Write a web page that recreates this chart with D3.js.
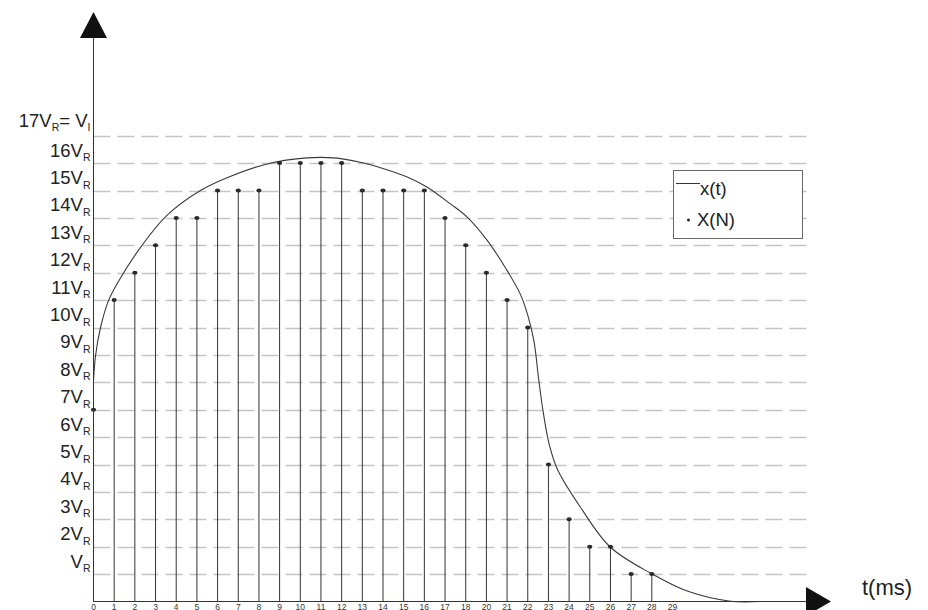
<!DOCTYPE html>
<html>
<head>
<meta charset="utf-8">
<script src="https://cdn.jsdelivr.net/npm/d3@7"></script>
<style>
    body { margin: 0; background: #fff; }
    svg { display: block; font-family: "Liberation Sans", Arial, sans-serif; }
</style>
</head>
<body>
<script>
(function(){

//sampled values X(N), one per stem, in units of VR
var stemValues = [7, 11, 12, 13, 14, 14, 15, 15, 15, 16, 16, 16, 16, 15, 15, 15, 15, 14, 13, 12, 11, 10, 5, 3, 2, 2, 1, 1];

//tick labels under the time axis (19 is missing in the original)
var tickLabels = ["0", "1", "2", "3", "4", "5", "6", "7", "8", "9", "10", "11", "12", "13", "14", "15", "16", "17", "18", "20", "21", "22", "23", "24", "25", "26", "27", "28", "29"];

//y levels and their labels
var levels = [1, 2, 3, 4, 5, 6, 7, 8, 9, 10, 11, 12, 13, 14, 15, 16, 17];
var levelNames = ["", "2", "3", "4", "5", "6", "7", "8", "9", "10", "11", "12", "13", "14", "15", "16", "17"];

//continuous signal x(t) (t in sample steps, value in VR)
var curveT = [0, 0.1, 0.34, 0.73, 1.22, 2.3, 3.56, 5.17, 6.4, 8.4, 10.33, 11.6, 12.9, 13.88, 15.17, 16.14, 17.26, 18.07, 19.04, 20.0, 20.65, 21.0, 21.3, 21.53, 21.75, 22.05, 22.45, 23.55, 25.0, 27.0, 28.71, 30.8, 32.25];
var curveV = [8.07, 8.98, 10.0, 10.99, 11.7, 12.95, 14.1, 15.0, 15.45, 15.97, 16.19, 16.19, 16.03, 15.83, 15.49, 15.12, 14.51, 14.03, 13.18, 12.08, 11.2, 10.45, 9.5, 8.1, 6.9, 5.7, 4.8, 3.44, 1.98, 1.01, 0.38, 0.01, 0];

var width = 928,
    height = 610;

var svg = d3.select("body")
    .append("svg")
    .attr("width", width)
    .attr("height", height);

//scales
var x = d3.scaleLinear()
    .domain([0, 28])
    .range([93.5, 672.5]);

var y = d3.scaleLinear()
    .domain([0, 17])
    .range([601.5, 135.7]);

var gridEnd = 810;

//dashed level lines
svg.selectAll(".grid")
    .data(levels)
    .enter()
    .append("line")
    .attr("class", "grid")
    .attr("x1", x(0))
    .attr("x2", gridEnd)
    .attr("y1", function(d){ return Math.round(y(d)) + 0.5; })
    .attr("y2", function(d){ return Math.round(y(d)) + 0.5; })
    .style("stroke", "#c4c4c4")
    .style("stroke-width", 1.3)
    .style("stroke-dasharray", "17,7");

//y labels: nV with subscript R
var labels = svg.selectAll(".ylabel")
    .data(levels)
    .enter()
    .append("text")
    .attr("class", "ylabel")
    .attr("x", 90.5)
    .attr("y", function(d){ return y(d) - 6.5; })
    .attr("text-anchor", "end")
    .style("font-size", "18.5px")
    .style("fill", "#222");

labels.append("tspan")
    .text(function(d, i){ return levelNames[i] + "V"; });
labels.append("tspan")
    .attr("dy", 4.6)
    .style("font-size", "10.5px")
    .text("R");
//top level reads 17VR = VI
labels.filter(function(d){ return d == 17; })
    .each(function(){
        var t = d3.select(this);
        t.attr("y", y(17) - 9);
        t.append("tspan")
            .attr("dy", -4.6)
            .text("= V");
        t.append("tspan")
            .attr("dy", 4.6)
            .style("font-size", "10.5px")
            .text("I");
    });

//stems
svg.selectAll(".stem")
    .data(stemValues)
    .enter()
    .append("line")
    .attr("class", "stem")
    .attr("x1", function(d, i){ return x(i); })
    .attr("x2", function(d, i){ return x(i); })
    .attr("y1", y(0))
    .attr("y2", function(d){ return y(d); })
    .style("stroke", "#333")
    .style("stroke-width", 1);

//continuous curve
var curvePts = curveT.map(function(t, i){ return [t, curveV[i]]; });
var line = d3.line()
    .x(function(d){ return x(d[0]); })
    .y(function(d){ return y(d[1]); })
    .curve(d3.curveCatmullRom.alpha(0.5));

svg.append("path")
    .datum(curvePts)
    .attr("d", line)
    .style("fill", "none")
    .style("stroke", "#3a3a3a")
    .style("stroke-width", 1.1);

//sample dots
svg.selectAll(".dot")
    .data(stemValues)
    .enter()
    .append("ellipse")
    .attr("class", "dot")
    .attr("cx", function(d, i){ return x(i); })
    .attr("cy", function(d){ return y(d); })
    .attr("rx", 2.6)
    .attr("ry", 2)
    .style("fill", "#2a2a2a");

//axes with arrow heads
svg.append("line")
    .attr("x1", x(0)).attr("x2", x(0))
    .attr("y1", y(0)).attr("y2", 38)
    .style("stroke", "#333");
svg.append("path")
    .attr("d", "M" + x(0) + ",12L80,38L107,38Z")
    .style("fill", "#111");

svg.append("line")
    .attr("x1", x(0)).attr("x2", 806)
    .attr("y1", y(0)).attr("y2", y(0))
    .style("stroke", "#333");
svg.append("path")
    .attr("d", "M831," + y(0) + "L806,587L806,616Z")
    .style("fill", "#111");

//time tick labels along the bottom edge
svg.selectAll(".tick")
    .data(tickLabels)
    .enter()
    .append("text")
    .attr("class", "tick")
    .attr("x", function(d, i){ return x(i); })
    .attr("y", 609.5)
    .attr("text-anchor", "middle")
    .style("font-size", "8.5px")
    .style("fill", "#333")
    .text(function(d){ return d; });

svg.append("text")
    .attr("x", 862)
    .attr("y", 595)
    .style("font-size", "22px")
    .style("fill", "#222")
    .text("t(ms)");

//legend
var legend = svg.append("g");
legend.append("rect")
    .attr("x", 673.5)
    .attr("y", 170.5)
    .attr("width", 129)
    .attr("height", 68)
    .style("fill", "#fff")
    .style("stroke", "#666");
legend.append("line")
    .attr("x1", 676).attr("x2", 700)
    .attr("y1", 183.5).attr("y2", 183.5)
    .style("stroke", "#333");
legend.append("text")
    .attr("x", 700)
    .attr("y", 195)
    .style("font-size", "18.5px")
    .style("fill", "#222")
    .text("x(t)");
legend.append("circle")
    .attr("cx", 688.5)
    .attr("cy", 220)
    .attr("r", 1.5)
    .style("fill", "#222");
legend.append("text")
    .attr("x", 697)
    .attr("y", 226)
    .style("font-size", "18.5px")
    .style("fill", "#222")
    .text("X(N)");

})();
</script>
</body>
</html>
